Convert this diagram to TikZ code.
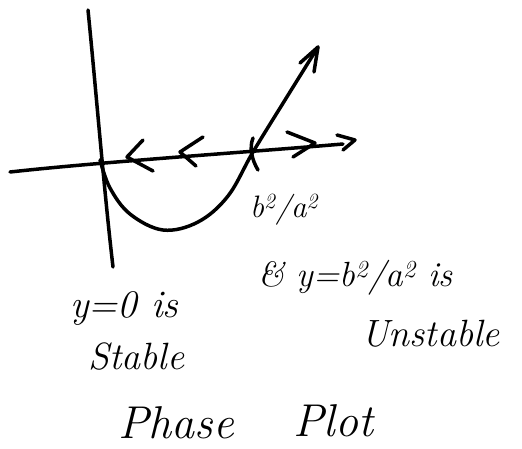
\documentclass[tikz,border=0pt]{standalone}
\usepackage{fontspec}
\begin{document}
\begin{tikzpicture}[x=1pt,y=-1pt,
  ink/.style={line width=3.5pt,line cap=round,line join=round},
  hand/.style={inner sep=0pt,anchor=west}]
\useasboundingbox (0,0) rectangle (522,448);
% axes
\coordinate (ytop) at (88,10);
\coordinate (ybot) at (113,267);
\coordinate (xl) at (10,172);
\coordinate (xr) at (343,144);
\coordinate (o) at (100,160);
\coordinate (r) at (253,152);
\draw[ink] (ytop) .. controls (96,90) and (104,190) .. (ybot);
\draw[ink] (xl) .. controls (100,162) and (250,152) .. (xr);
\draw[ink] (337,135) -- (355,140) -- (343,150);
% curve
\coordinate (ctip) at (318,47);
\draw[ink] plot[smooth,tension=0.6] coordinates {(o) (110,188) (130,214) (163,230) (198,222) (228,196) (r) (285,100) (ctip)};
\draw[ink] (300,63) -- (ctip) -- (314,72);
% flow arrows on axis
\draw[ink] (143,140) -- (127,157) -- (153,171);
\draw[ink] (203,137) -- (180,152) -- (196,166);
\draw[ink] (287,132) -- (315,143) -- (293,157);
% tick
\draw[ink] (253,138) .. controls (249,148) and (252,160) .. (258,170);
% labels
\node[hand,font=\itshape\fontsize{31}{31}\selectfont] (lab1) at (250,210) {b\textsuperscript{2}/a\textsuperscript{2}};
\node[hand,font=\itshape\fontsize{35}{35}\selectfont] (lab2) at (258,278) {\& y=b\textsuperscript{2}/a\textsuperscript{2} is};
\node[hand,font=\itshape\fontsize{38}{38}\selectfont] (lab3) at (361,334) {Unstable};
\node[hand,font=\itshape\fontsize{39}{39}\selectfont] (lab4) at (70,309) {y=0 is};
\node[hand,font=\itshape\fontsize{38}{38}\selectfont] (lab5) at (88,357) {Stable};
\node[hand,font=\itshape\fontsize{46}{46}\selectfont] (lab6) at (118,423) {Phase};
\node[hand,font=\itshape\fontsize{46}{46}\selectfont] (lab7) at (293,421) {Plot};
\end{tikzpicture}
\end{document}
